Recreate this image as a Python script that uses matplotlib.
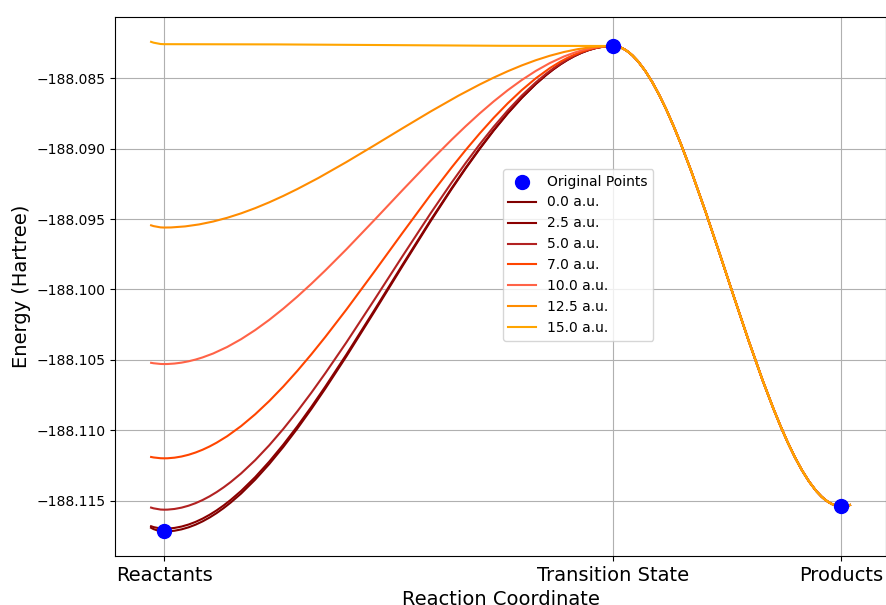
import matplotlib.pyplot as plt
from matplotlib.path import Path
from matplotlib.patches import PathPatch
from matplotlib.lines import Line2D

# stationary points along the path
stat_x = [0.0, 1.0, 1.508]
stat_labels = ['Reactants', 'Transition State', 'Products']
stat_E = [-188.1172, -188.0827, -188.1154]

# field strengths and the reactant-side energies for each
fields = [0.0, 2.5, 5.0, 7.0, 10.0, 12.5, 15.0]
react_E = [-188.1172, -188.1170, -188.11565, -188.1120, -188.1053, -188.0956, -188.08257]
start_E = [-188.1169, -188.1168, -188.11548, -188.11189, -188.1052, -188.09542, -188.08238]
end_E = -188.1153
x_start, x_end = -0.031, 1.530
colors = ['maroon', 'darkred', 'firebrick', 'orangered', 'tomato', 'darkorange', 'orange']

fig, ax = plt.subplots(figsize=(8.87, 6.05), dpi=100)
fig.subplots_adjust(left=0.1297, right=0.9989, top=0.9719, bottom=0.081)

xr, xts, xp = stat_x
yts, yp = stat_E[1], stat_E[2]
handles = []
for f, yr, ys, c in zip(fields, react_E, start_E, colors):
    d1 = xts - xr
    d2 = xp - xts
    verts = [(x_start, ys), ((x_start + xr) / 2, yr), (xr, yr),
             (xr + d1 / 3, yr), (xts - d1 / 3, yts), (xts, yts),
             (xts + d2 / 3, yts), (xp - d2 / 3, yp), (xp, yp),
             ((xp + x_end) / 2, yp), (x_end, end_E)]
    codes = [Path.MOVETO, Path.CURVE3, Path.CURVE3,
             Path.CURVE4, Path.CURVE4, Path.CURVE4,
             Path.CURVE4, Path.CURVE4, Path.CURVE4,
             Path.CURVE3, Path.CURVE3]
    ax.add_patch(PathPatch(Path(verts, codes), fill=False, edgecolor=c, lw=1.5, zorder=2))
    handles.append(Line2D([], [], color=c, lw=1.5, label=f'{f} a.u.'))

sc = ax.scatter(stat_x, stat_E, s=100, color='blue', zorder=3, label='Original Points')

xspan = x_end - x_start
ax.set_xlim(x_start - 0.05 * xspan, x_end + 0.05 * xspan)
ymin, ymax = min(stat_E + react_E), max(start_E + stat_E)
yspan = ymax - ymin
ax.set_ylim(ymin - 0.05 * yspan, ymax + 0.05 * yspan)

ax.set_xticks(stat_x)
ax.set_xticklabels(stat_labels, fontsize=14)
ax.ticklabel_format(axis='y', useOffset=False)
ax.set_xlabel('Reaction Coordinate', fontsize=14)
ax.set_ylabel('Energy (Hartree)', fontsize=14)
ax.grid(True)
ax.legend(handles=[sc] + handles, loc='upper left', bbox_to_anchor=(0.503, 0.718),
          borderaxespad=0)

plt.savefig('out.png')
